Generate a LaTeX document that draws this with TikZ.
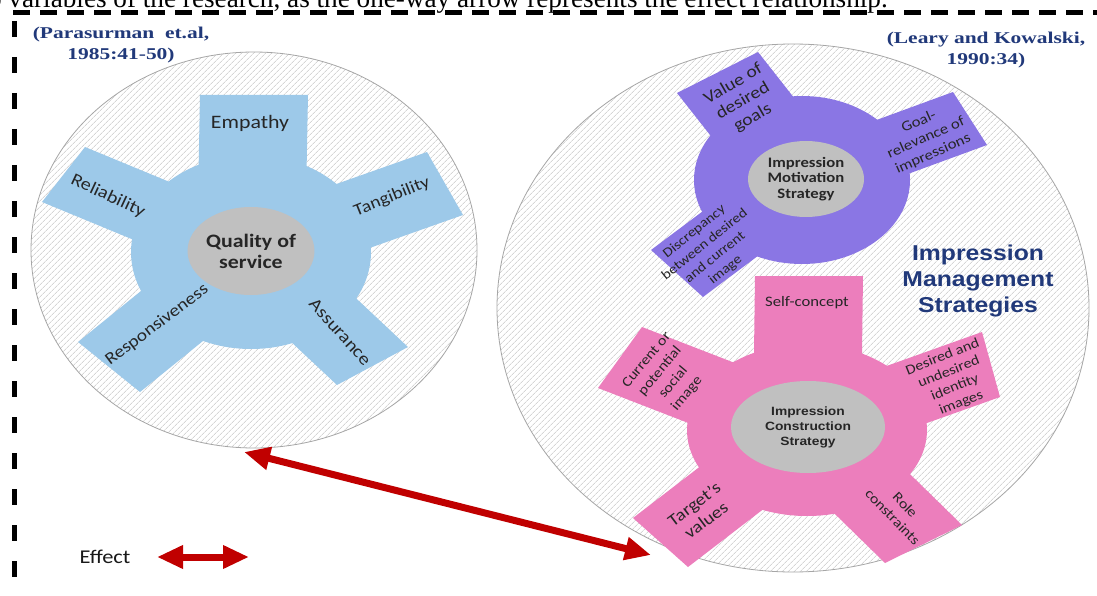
\documentclass[tikz,border=0pt]{standalone}
\usepackage{fontspec}
\setmainfont[FakeStretch=1.15]{Carlito}
\newfontfamily\arialfont[FakeStretch=1.15]{Liberation Sans}
\newfontfamily\citefont[FakeStretch=1.3]{Liberation Serif}
\newfontfamily\timesfont{Liberation Serif}
\usepackage{xcolor}
\definecolor{qsBlue}{RGB}{157,201,233}
\definecolor{imPurple}{RGB}{138,118,228}
\definecolor{icPink}{RGB}{236,126,188}
\definecolor{hubGrey}{RGB}{192,192,192}
\definecolor{citeBlue}{RGB}{33,57,122}
\definecolor{effRed}{RGB}{192,0,0}
\usepackage{tikz}
\usetikzlibrary{arrows.meta, calc, shapes.geometric, patterns.meta}
\tikzset{
	ring/.style={ellipse, draw=gray!70, line width=0.8pt, inner sep=0pt,
		pattern={Lines[angle=45, distance=4pt, line width=0.6pt]}, pattern color=gray!50},
	hub/.style={ellipse, fill=hubGrey, inner sep=0pt, align=center, text=black!85},
	lbl/.style={align=center, text=black!85, inner sep=0pt},
	cite/.style={align=center, text=citeBlue, inner sep=0pt, font=\citefont\bfseries\fontsize{16.5}{21}\selectfont},
	effarrow/.style={draw=effRed, line width=7pt, {Triangle[length=26pt, width=22pt]}-{Triangle[length=26pt, width=22pt]}},
}

\begin{document}
\begin{tikzpicture}[x=1pt, y=-1pt]
	\useasboundingbox (0,0) rectangle (1097,596);
	\fill[white] (0,0) rectangle (1097,596);
	\clip (0,0) rectangle (1097,596);
	% frame and the sentence above it
	\node[anchor=base east, inner sep=0pt, font=\timesfont\fontsize{27.2}{30}\selectfont] (caption) at (888,8) {the two variables of the research, as the one-way arrow represents the effect relationship.};
	\draw[line width=5pt, dash pattern=on 17pt off 10pt] (13,13) -- (1097,13);
	\draw[line width=5pt, dash pattern=on 16pt off 20pt, dash phase=-8pt] (14,13) -- (14,596);

	\node[ring, minimum width=446pt, minimum height=396pt] (qsRing) at (254,250) {};
	\node[ring, minimum width=592pt, minimum height=528pt] (imsRing) at (793,308) {};

	% quality of service
	\coordinate (qsC) at (251,252);
	\foreach \ax/\ay/\bx/\by in {200/95/308/95, 85/147/42/202, 427/152/463/215, 78/342/140/392, 337/385/408/347}
		\fill[qsBlue] (\ax,\ay) -- (\bx,\by) -- ($(qsC)+0.5*(\bx,\by)-0.5*(\ax,\ay)$) -- ($(qsC)+0.5*(\ax,\ay)-0.5*(\bx,\by)$) -- cycle;
	\fill[qsBlue] (qsC) ellipse [x radius=120pt, y radius=97pt];
	\node[hub, minimum width=114pt, minimum height=88pt, font=\bfseries\fontsize{19}{21}\selectfont] (qsHub) at (251,251) {Quality of\\service};
	\node[lbl, font=\fontsize{19}{22}\selectfont] (empathy) at (250,123) {Empathy};
	\node[lbl, rotate=-25, font=\fontsize{17.5}{20}\selectfont] (reliab) at (108,196) {Reliability};
	\node[lbl, rotate=22, font=\fontsize{17}{20}\selectfont] (tangib) at (392,197) {Tangibility};
	\node[lbl, rotate=37, font=\fontsize{17}{20}\selectfont] (respons) at (157,325) {Responsiveness};
	\node[lbl, rotate=-48, font=\fontsize{17.5}{20}\selectfont] (assur) at (340,332) {Assurance};

	% impression motivation
	\coordinate (imC) at (802,180);
	\foreach \ax/\ay/\bx/\by in {677/93/758/52, 953/92/987/145, 651/250/703/297}
		\fill[imPurple] (\ax,\ay) -- (\bx,\by) -- ($(imC)+0.5*(\bx,\by)-0.5*(\ax,\ay)$) -- ($(imC)+0.5*(\ax,\ay)-0.5*(\bx,\by)$) -- cycle;
	\fill[imPurple] (imC) ellipse [x radius=108pt, y radius=84pt];
	\node[hub, minimum width=116pt, minimum height=76pt, font=\bfseries\fontsize{14.5}{15.5}\selectfont] (imHub) at (806,179) {Impression\\Motivation\\Strategy};
	\node[lbl, rotate=30, font=\fontsize{17}{19.5}\selectfont] (valueGoals) at (743,101) {Value of\\desired\\goals};
	\node[lbl, rotate=24, font=\fontsize{14.5}{17.5}\selectfont] (goalRel) at (926,138) {Goal-\\relevance of\\impressions};
	\node[lbl, rotate=39, font=\fontsize{13.5}{16.5}\selectfont] (discrep) at (710,251) {Discrepancy\\between desired\\and current\\image};

	% impression construction
	\coordinate (icC) at (807,430);
	\foreach \ax/\ay/\bx/\by in {755/276/863/276, 642/327/598/388, 982/332/1000/397, 633/518/688/567, 885/563/962/525}
		\fill[icPink] (\ax,\ay) -- (\bx,\by) -- ($(icC)+0.5*(\bx,\by)-0.5*(\ax,\ay)$) -- ($(icC)+0.5*(\ax,\ay)-0.5*(\bx,\by)$) -- cycle;
	\fill[icPink] (icC) ellipse [x radius=120pt, y radius=86pt];
	\node[hub, minimum width=154pt, minimum height=92pt, font=\arialfont\bfseries\fontsize{12}{15}\selectfont] (icHub) at (808,427) {Impression\\Construction\\Strategy};
	\node[lbl, font=\fontsize{14.5}{17}\selectfont] (selfConcept) at (807,303) {Self-concept};
	\node[lbl, rotate=50, font=\fontsize{14}{17.5}\selectfont] (currentImg) at (667,377) {Current or\\potential\\social\\image};
	\node[lbl, rotate=22, font=\fontsize{14}{16.5}\selectfont] (desiredImg) at (952,380) {Desired and\\undesired\\identity\\images};
	\node[lbl, rotate=37, font=\fontsize{17}{20}\selectfont] (targetVal) at (700,512) {Target's\\values};
	\node[lbl, rotate=-46, font=\fontsize{14}{17.5}\selectfont] (roleCons) at (899,511) {Role\\constraints};

	\node[align=center, text=citeBlue, font=\arialfont\bfseries\fontsize{21.5}{26}\selectfont] (imsTitle) at (978,281) {Impression\\Management\\Strategies};
	\node[cite] (qsCite) at (121,45) {(Parasurman\ \ et.al,\\1985:41-50)};
	\node[cite] (imsCite) at (986,50) {(Leary and Kowalski,\\1990:34)};

	% effect relation and key
	\coordinate (effL) at (244,452);
	\coordinate (effR) at (651,555);
	\draw[effarrow] (effL) -- (effR);
	\node[lbl, text=black!90, font=\fontsize{19.5}{22}\selectfont] (effect) at (105,557) {Effect};
	\coordinate (keyL) at (157,557);
	\coordinate (keyR) at (249,557);
	\draw[effarrow] (keyL) -- (keyR);
\end{tikzpicture}
\end{document}
